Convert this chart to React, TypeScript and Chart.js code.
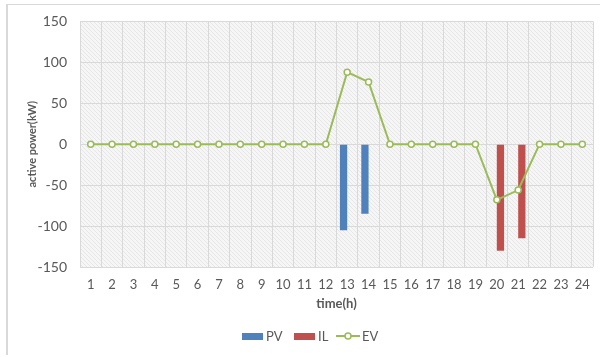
import React, { useEffect, useRef } from "react";
import { Chart, registerables } from "chart.js";

Chart.register(...registerables);

const hours = ["1","2","3","4","5","6","7","8","9","10","11","12","13","14","15","16","17","18","19","20","21","22","23","24"];
const pvValues = [null,null,null,null,null,null,null,null,null,null,null,null,-105,-85,null,null,null,null,null,null,null,null,null,null];
const ilValues = [null,null,null,null,null,null,null,null,null,null,null,null,null,null,null,null,null,null,null,-130,-115,null,null,null];
const evValues = [0,0,0,0,0,0,0,0,0,0,0,0,88,76,0,0,0,0,0,-68,-56,0,0,0];
const yTicks = [-150, -100, -50, 0, 50, 100, 150];

const FONT = "Lato, 'Liberation Sans', Arial, sans-serif";
const TEXT = "#595959";
const PV_COLOR = "#4F81BD";
const IL_COLOR = "#C0504D";
const EV_COLOR = "#9BBB59";

function makePattern(ctx: CanvasRenderingContext2D) {
  const c = document.createElement("canvas");
  c.width = 4;
  c.height = 4;
  const p = c.getContext("2d")!;
  p.fillStyle = "#f6f6f6";
  p.fillRect(0, 0, 4, 4);
  p.strokeStyle = "#e6e6e6";
  p.lineWidth = 1;
  p.beginPath();
  p.moveTo(0, 0);
  p.lineTo(4, 4);
  p.stroke();
  return ctx.createPattern(c, "repeat");
}

const hatchPlugin = {
  id: "hatch",
  beforeDraw(chart: any) {
    const { ctx, chartArea } = chart;
    const pat = makePattern(ctx);
    ctx.save();
    ctx.fillStyle = pat || "#f2f2f2";
    ctx.fillRect(chartArea.left, chartArea.top, chartArea.right - chartArea.left, chartArea.bottom - chartArea.top);
    ctx.restore();
  },
};

export default function App() {
  const ref = useRef<HTMLCanvasElement>(null);
  useEffect(() => {
    const chart = new Chart(ref.current!, {
      type: "bar",
      data: {
        labels: hours,
        datasets: [
          { type: "line", label: "EV", data: evValues, borderColor: EV_COLOR, borderWidth: 2, tension: 0, pointRadius: 3, pointBackgroundColor: "#ffffff", pointBorderColor: EV_COLOR, pointBorderWidth: 1.5, order: 0 } as any,
          { type: "bar", label: "PV", data: pvValues, backgroundColor: PV_COLOR, categoryPercentage: 0.68, barPercentage: 1, order: 1 },
          { type: "bar", label: "IL", data: ilValues, backgroundColor: IL_COLOR, categoryPercentage: 0.68, barPercentage: 1, order: 1 },
        ],
      },
      options: {
        animation: false,
        responsive: false,
        maintainAspectRatio: false,
        layout: { padding: { left: 7, top: 18, right: 9, bottom: 45 } },
        plugins: { legend: { display: false }, tooltip: { enabled: false } },
        scales: {
          x: {
            grid: { color: "#d9d9d9", offset: true, drawTicks: false },
            border: { display: false },
            ticks: { color: TEXT, font: { family: FONT, size: 13 }, padding: 10, maxRotation: 0, autoSkip: false },
            title: { display: true, text: "time(h)", color: TEXT, font: { family: FONT, size: 13, weight: "bold" }, padding: { top: 2, bottom: 0 } },
            afterFit(axis: any) { axis.height = 45; },
          },
          y: {
            min: -150,
            max: 150,
            afterBuildTicks(axis: any) { axis.ticks = yTicks.map((v) => ({ value: v })); },
            grid: { color: "#d9d9d9", drawTicks: false },
            border: { display: false },
            ticks: { color: TEXT, font: { family: FONT, size: 14 }, padding: 13 },
            title: { display: true, text: "active power(kW)", color: TEXT, font: { family: FONT, size: 11, weight: "bold" }, padding: { top: 19, bottom: 0 } },
            afterFit(axis: any) { axis.width = 73; },
          },
        },
      },
      plugins: [hatchPlugin],
    });
    return () => chart.destroy();
  }, []);

  const legendText: React.CSSProperties = { fontFamily: FONT, fontSize: 13, color: TEXT, position: "absolute", top: 0, lineHeight: "16px" };
  return (
    <div style={{ position: "fixed", left: 0, top: 0, width: 602, height: 357, background: "#fff" }}>
      <div style={{ position: "absolute", left: 6, top: 4, width: 594, height: 351, borderTop: "1px solid #d9d9d9", borderLeft: "2px solid #d9d9d9", boxSizing: "border-box" }} />
      <canvas ref={ref} width={602} height={357} style={{ position: "absolute", left: 0, top: 0 }} />
      <div style={{ position: "absolute", left: 0, width: 602, top: 328, height: 16 }}>
        <span style={{ position: "absolute", left: 242, top: 5, width: 21, height: 7, background: PV_COLOR }} />
        <span style={{ ...legendText, left: 266 }}>PV</span>
        <span style={{ position: "absolute", left: 294, top: 5, width: 21, height: 7, background: IL_COLOR }} />
        <span style={{ ...legendText, left: 318 }}>IL</span>
        <svg width={24} height={8} style={{ position: "absolute", left: 336, top: 4 }}>
          <line x1={0} y1={4} x2={24} y2={4} stroke={EV_COLOR} strokeWidth={2} />
          <circle cx={12} cy={4} r={3} fill="#fff" stroke={EV_COLOR} strokeWidth={1.5} />
        </svg>
        <span style={{ ...legendText, left: 362 }}>EV</span>
      </div>
    </div>
  );
}
